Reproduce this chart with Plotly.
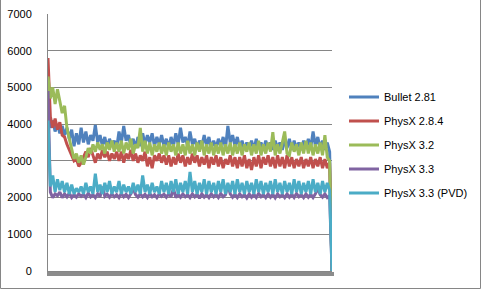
import plotly.graph_objects as go

series_names = ["Bullet 2.81", "PhysX 2.8.4", "PhysX 3.2", "PhysX 3.3", "PhysX 3.3 (PVD)"]
series_colors = ["#4F81BD", "#C0504D", "#9BBB59", "#8064A2", "#4BACC6"]

bullet_281 = [
    4300, 3900, 4100, 3800, 4000, 3750, 3950, 3700, 3900, 3600,
    3850, 3400, 3750, 3450, 3900, 3500, 3800, 3450, 3700, 3550,
    3980, 3500, 3700, 3400, 3650, 3350, 3600, 3400, 3550, 3350,
    3800, 3500, 3950, 3550, 3700, 3400, 3600, 3350, 3650, 3400,
    3750, 3450, 3700, 3500, 3750, 3400, 3650, 3450, 3700, 3400,
    3600, 3350, 3650, 3400, 3750, 3450, 3900, 3500, 3650, 3400,
    3800, 3450, 3600, 3350, 3550, 3400, 3700, 3400, 3650, 3350,
    3550, 3350, 3600, 3400, 3650, 3350, 3950, 3500, 3700, 3400,
    3650, 3350, 3550, 3300, 3500, 3350, 3550, 3300, 3600, 3350,
    3500, 3300, 3550, 3350, 3500, 3300, 3550, 3350, 3500, 3300,
    3550, 3350, 3600, 3300, 3550, 3350, 3500, 3300, 3550, 3350,
    3600, 3350, 3800, 3400, 3650, 3350, 3550, 3300, 3500, 3250,
    0,
]

physx_284 = [
    5800, 4200, 3900, 4150, 3850, 4050, 3700, 3650, 3450, 3300,
    3200, 3000, 3050, 2850, 2950, 3100, 3250, 3100, 3350, 3150,
    2950, 3200, 3050, 3300, 3100, 3250, 3000, 3200, 3050, 3250,
    3000, 3250, 2950, 3200, 3050, 3300, 3000, 3200, 2950, 3150,
    3000, 3250, 2850, 3100, 2800, 3150, 3000, 3200, 2950, 3150,
    2900, 3150, 2850, 3100, 2900, 3200, 2950, 3150, 2850, 3100,
    2900, 3200, 2950, 3150, 2850, 3100, 2900, 3150, 2800, 3100,
    2900, 3150, 2850, 3100, 2800, 3050, 2900, 3150, 2850, 3100,
    2800, 3100, 2850, 3150, 2800, 3050, 2750, 3100, 2850, 3150,
    2800, 3100, 2900, 3150, 2850, 3100, 2800, 3150, 2850, 3100,
    2800, 3150, 2850, 3100, 2800, 3050, 2850, 3100, 2800, 3050,
    2850, 3100, 2800, 3050, 2850, 3100, 2800, 3050, 2800, 2950,
    0,
]

physx_32 = [
    5300, 4700, 5000, 4550, 4950, 4650, 4300, 4500, 3900, 3600,
    3300, 3050, 3200, 2950, 3150, 2900, 3100, 3350, 3200, 3450,
    3250, 3500, 3300, 3450, 3200, 3500, 3300, 3550, 3250, 3500,
    3250, 3550, 3200, 3500, 3300, 3600, 3200, 3450, 3350, 3900,
    3250, 3550, 3200, 3500, 3150, 3450, 3250, 3500, 3200, 3450,
    3150, 3500, 3250, 3450, 3150, 3500, 3200, 3450, 3150, 3550,
    3200, 3450, 3150, 3500, 3250, 3550, 3150, 3450, 3200, 3500,
    3150, 3450, 3200, 3500, 3150, 3450, 3200, 3500, 3150, 3450,
    3200, 3500, 3150, 3450, 3250, 3500, 3150, 3450, 3200, 3550,
    3150, 3450, 3200, 3500, 3250, 3780, 3150, 3450, 3200, 3500,
    3800, 3200, 3150, 3500, 3250, 3450, 3150, 3500, 3200, 3550,
    3200, 3500, 3150, 3450, 3200, 3500, 3150, 3700, 3100, 3000,
    0,
]

physx_33 = [
    4900, 2150, 2000, 2100, 2050, 2150, 2000, 2100, 2020, 2120,
    2000, 2080, 2010, 2100, 2030, 2090, 2000, 2120, 2020, 2080,
    2000, 2100, 2020, 2300, 2030, 2090, 2010, 2100, 2020, 2080,
    2000, 2110, 2020, 2090, 2000, 2100, 2250, 2080, 2010, 2100,
    2020, 2090, 2000, 2110, 2020, 2080, 2000, 2100, 2030, 2090,
    2010, 2100, 2020, 2250, 2000, 2090, 2010, 2100, 2020, 2080,
    2000, 2100, 2020, 2090, 1980, 2100, 2010, 2080, 2000, 2100,
    2020, 2090, 2000, 2110, 2020, 2080, 2350, 2100, 2010, 2090,
    2000, 2100, 2020, 2080, 1990, 2100, 2010, 2090, 2000, 2110,
    2020, 2080, 2000, 2100, 2010, 2090, 1990, 2100, 2020, 2080,
    2000, 2100, 2010, 2090, 2000, 2110, 2020, 2080, 2000, 2100,
    2010, 2090, 2000, 2100, 2250, 2080, 2010, 2100, 2000, 2050,
    0,
]

physx_33_pvd = [
    4100, 2300, 2600, 2150, 2500, 2200, 2450, 2150, 2400, 2100,
    2350, 2100, 2250, 2150, 2300, 2100, 2400, 2150, 2300, 2100,
    2650, 2150, 2350, 2100, 2400, 2150, 2450, 2100, 2300, 2150,
    2450, 2100, 2350, 2150, 2300, 2100, 2400, 2150, 2350, 2100,
    2600, 2150, 2350, 2100, 2400, 2150, 2300, 2100, 2450, 2150,
    2400, 2100, 2450, 2150, 2500, 2100, 2400, 2150, 2450, 2100,
    2700, 2150, 2450, 2100, 2400, 2150, 2500, 2100, 2450, 2150,
    2400, 2100, 2450, 2150, 2500, 2100, 2400, 2150, 2450, 2100,
    2500, 2150, 2400, 2100, 2450, 2150, 2400, 2100, 2500, 2150,
    2450, 2100, 2400, 2150, 2450, 2100, 2500, 2150, 2400, 2100,
    2450, 2150, 2400, 2100, 2500, 2150, 2450, 2100, 2400, 2150,
    2450, 2100, 2500, 2150, 2400, 2100, 2450, 2150, 2400, 2200,
    0,
]

y_ticks = [0, 1000, 2000, 3000, 4000, 5000, 6000, 7000]

all_series = [bullet_281, physx_284, physx_32, physx_33, physx_33_pvd]
n_points = len(bullet_281)
categories = list(range(1, n_points + 1))

W, H = 481, 289
L, R, T, B = 48, 149, 14, 18

fig = go.Figure()
for name, color, vals in zip(series_names, series_colors, all_series):
    fig.add_trace(go.Scatter(
        x=categories, y=vals, mode="lines", name=name,
        legendgroup=name,
        line=dict(color=color, width=3),
    ))

pw = W - L - R
ph = H - T - B
fig.add_shape(type="rect", xref="paper", yref="paper",
              x0=-(L - 0.5) / pw, x1=(W - L - 0.5) / pw,
              y0=-(B - 0.5) / ph, y1=(H - T - 0.5) / ph,
              line=dict(color="#868686", width=1), layer="above")

fig.update_layout(
    width=W, height=H,
    margin=dict(l=L, r=R, t=T, b=B, autoexpand=False),
    paper_bgcolor="white", plot_bgcolor="white",
    font=dict(family="Liberation Sans, Arial, sans-serif", size=11, color="black"),
    showlegend=True,
    legend=dict(
        xref="container", yref="container",
        x=344 / W, xanchor="left", y=1 - 145 / H, yanchor="middle",
        font=dict(size=11, color="black"),
        tracegroupgap=5,
        bgcolor="rgba(0,0,0,0)",
    ),
    xaxis=dict(
        range=[1, n_points], showgrid=False, zeroline=False,
        showline=True, linecolor="#868686", linewidth=1,
        ticks="outside", ticklen=4, tickwidth=3, tickcolor="#8c8c8c",
        tickmode="linear", tick0=1, dtick=1, showticklabels=False,
    ),
    yaxis=dict(
        range=[0, 7000], tickvals=y_ticks, showgrid=True,
        gridcolor="#868686", gridwidth=1, zeroline=False,
        showline=True, linecolor="#868686", linewidth=1,
        ticks="", ticklabelstandoff=13,
        tickfont=dict(size=11, color="black"),
    ),
)

fig.write_html("out.html")
